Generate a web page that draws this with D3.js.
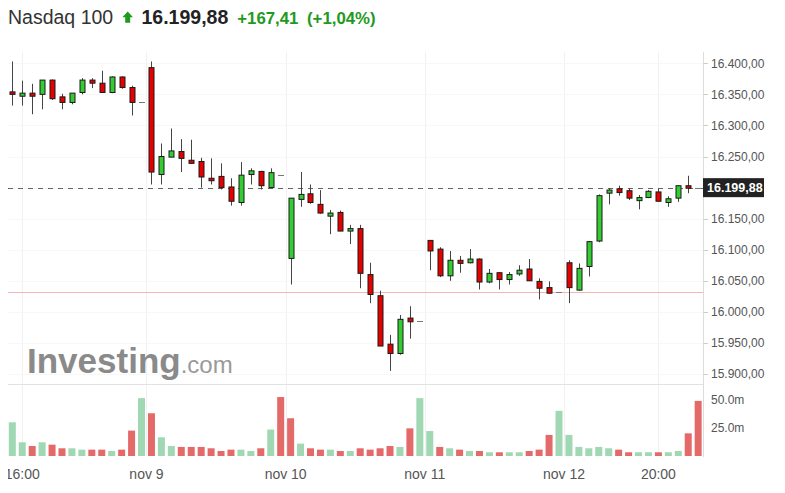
<!DOCTYPE html>
<html>
<head>
<meta charset="utf-8">
<script src="https://cdn.jsdelivr.net/npm/d3@7"></script>
<style>
  html, body { margin: 0; padding: 0; background: #fff; }
  svg { display: block; }
</style>
</head>
<body>
<svg id="chart" width="785" height="493"></svg>
<script>
// ---------- DATA ----------
const opens  = [16354,16347,16352,16350,16373,16346,16337,16353,16373,16368,16353,16378,16361,16338,16393,16221,16249,16258,16244,16242,16215,16218,16201,16176,16221,16226,16200,16221,16086,16181,16190,16173,16154,16160,16130,16134,16060,16026,15948,15933,15990,15986,16115,16101,16058,16083,16079,16085,16048,16063,16052,16061,16069,16049,16039,16032,16079,16035,16073,16114,16191,16198,16195,16179,16184,16193,16176,16183,16203,16199.88];
const highs  = [16403,16372,16367,16373,16374,16351,16352,16376,16376,16388,16379,16379,16364,16338,16403,16271,16295,16278,16277,16248,16247,16239,16215,16241,16231,16227,16231,16221,16183,16225,16205,16196,16164,16163,16140,16140,16079,16034,15963,15995,16009,15986,16115,16104,16098,16090,16101,16086,16069,16064,16064,16075,16085,16054,16049,16032,16083,16078,16114,16189,16199,16203,16199,16188,16196,16198,16186,16204,16219,16199.88];
const lows   = [16332,16332,16318,16326,16341,16326,16334,16350,16360,16353,16352,16359,16316,16338,16205,16205,16249,16225,16238,16200,16205,16197,16171,16171,16205,16197,16200,16221,16044,16169,16174,16158,16125,16130,16109,16038,16014,15945,15905,15931,15957,15986,16067,16056,16050,16063,16078,16036,16046,16036,16044,16058,16050,16020,16029,16032,16014,16034,16057,16112,16173,16187,16180,16165,16183,16177,16169,16177,16191,16199.88];
const closes = [16350,16352,16347,16373,16343,16337,16352,16373,16368,16353,16378,16361,16337,16338,16225,16250,16259,16247,16239,16217,16211,16200,16178,16220,16227,16203,16224,16221,16183,16189,16176,16159,16159,16130,16134,16062,16028,15945,15933,15988,15984,15986,16098,16058,16083,16078,16085,16048,16062,16052,16060,16067,16050,16038,16030,16032,16039,16070,16113,16187,16196,16192,16183,16184,16194,16178,16182,16203,16199,16199.88];
// volume in millions, and whether the volume bar is "up" (u) or "down" (d)
const volumes = [29.7,12.1,8.8,12.1,10,6.8,6.8,5.6,5.6,5.6,4.4,5.6,22.4,51,37.7,16.5,8.8,8,8,8,6.8,4.4,5.6,5.6,4.4,6.8,23.3,52,33.3,10.9,6.8,5.6,5.6,4.4,4.4,6.8,5.6,6.8,8.8,8,24.4,51,22,8,6.8,5.6,4.4,4.4,3.3,3.3,3.3,3.3,4.4,5.6,18.6,39.8,18.6,8,6.8,8,6.8,5.6,3.3,3.3,3.3,3.3,3.3,4.4,20,48.6];
const volDir  = ["u","u","d","u","d","d","u","u","d","d","u","d","d","u","d","u","u","d","d","d","d","d","d","u","u","d","u","d","d","u","d","d","u","d","u","d","d","d","d","u","d","u","u","d","u","d","u","d","u","d","u","u","d","d","d","u","u","u","u","u","u","d","d","u","u","d","u","u","d","d"];

const priceTicks = [15900,15950,16000,16050,16100,16150,16250,16300,16350,16400];
const volumeTicks = [25, 50];
const volumeTickLabels = ["25.0m", "50.0m"];
const timeTickPos = [1, 13.5, 27.5, 41.5, 55.5, 65];
const timeTickLabels = ["16:00", "nov 9", "nov 10", "nov 11", "nov 12", "20:00"];

const instrument = "Nasdaq 100";
const lastPrice = 16199.88;
const change = 167.41;
const changePct = 1.04;
const prevClose = 16032.47;

// ---------- SETUP ----------
const svg = d3.select("#chart");
const FONT = "'Liberation Sans', Arial, sans-serif";
const UP = "#33cc33", DOWN = "#e60000";
const VUP = "#9fd8b3", VDOWN = "#e46a6a";

const loc = d3.formatLocale({decimal: ",", thousands: ".", grouping: [3], currency: ["", ""]});
const fmt2 = loc.format(",.2f");

const plotLeft = 8, plotRight = 703;
const x = d3.scaleLinear().domain([0, 69]).range([12.3, 12.3 + 69 * 9.94]);
const y = d3.scaleLinear().domain([15900, 16400]).range([374, 63.3]);
const yv = d3.scaleLinear().domain([0, 50]).range([456, 399.3]);

svg.append("rect").attr("width", 785).attr("height", 493).attr("fill", "#fff");

// ---------- HEADER ----------
const hdr = svg.append("g").attr("font-family", FONT);
hdr.append("text").attr("x", 8).attr("y", 24).attr("font-size", 19.5).attr("fill", "#333").text(instrument);
hdr.append("path").attr("d", "M127.7,11.5 L133,17.3 L130.2,17.3 L130.2,22.7 L125.2,22.7 L125.2,17.3 L122.4,17.3 Z").attr("fill", "#1e9a1e");
hdr.append("text").attr("x", 141.5).attr("y", 24).attr("font-size", 19.5).attr("font-weight", "bold").attr("fill", "#222").text(fmt2(lastPrice));
hdr.append("text").attr("x", 237.3).attr("y", 24).attr("font-size", 16.8).attr("font-weight", "bold").attr("fill", "#1e9a1e").text("+" + fmt2(change));
hdr.append("text").attr("x", 307).attr("y", 24).attr("font-size", 16.8).attr("font-weight", "bold").attr("fill", "#1e9a1e").text("(+" + loc.format(".2f")(changePct) + "%)");

// ---------- GRID ----------
const grid = svg.append("g");
grid.selectAll("line.v").data(timeTickPos).join("line")
  .attr("x1", d => Math.round(x(d)) + 0.5).attr("x2", d => Math.round(x(d)) + 0.5)
  .attr("y1", 52).attr("y2", 456).attr("stroke", "#f1f1f1");
grid.selectAll("line.h").data(priceTicks.concat([16200])).join("line")
  .attr("x1", plotLeft).attr("x2", plotRight)
  .attr("y1", d => Math.round(y(d)) + 0.5).attr("y2", d => Math.round(y(d)) + 0.5)
  .attr("stroke", "#f7f7f7");

// panel separator
svg.append("line").attr("x1", plotLeft).attr("x2", plotRight).attr("y1", 384.5).attr("y2", 384.5).attr("stroke", "#e2e2e2");

// ---------- WATERMARK ----------
const wm = svg.append("text").attr("x", 27).attr("y", 373).attr("font-family", FONT).attr("fill", "#8a8a8a");
wm.append("tspan").attr("font-size", 35).attr("font-weight", "bold").text("Investing");
wm.append("tspan").attr("font-size", 24).attr("fill", "#9a9a9a").text(".com");

// ---------- REFERENCE LINES ----------
svg.append("line").attr("x1", plotLeft).attr("x2", plotRight)
  .attr("y1", Math.round(y(prevClose)) + 0.5).attr("y2", Math.round(y(prevClose)) + 0.5)
  .attr("stroke", "#f5b5b5");
svg.append("line").attr("x1", plotLeft).attr("x2", plotRight)
  .attr("y1", Math.round(y(lastPrice)) + 0.5).attr("y2", Math.round(y(lastPrice)) + 0.5)
  .attr("stroke", "#666").attr("stroke-dasharray", "5,5");

// ---------- VOLUME ----------
svg.append("g").selectAll("rect").data(volumes).join("rect")
  .attr("x", (d, i) => x(i) - 3.5).attr("width", 7)
  .attr("y", d => yv(d)).attr("height", d => yv(0) - yv(d))
  .attr("fill", (d, i) => volDir[i] === "u" ? VUP : VDOWN);

// ---------- CANDLES ----------
const candles = d3.range(opens.length).map(i => ({i, o: opens[i], h: highs[i], l: lows[i], c: closes[i]}));
const cg = svg.append("g");
const normal = candles.filter(d => d.h !== d.l);
const flat = candles.filter(d => d.h === d.l);
cg.selectAll("line.wick").data(normal).join("line")
  .attr("x1", d => Math.round(x(d.i)) + 0.5).attr("x2", d => Math.round(x(d.i)) + 0.5)
  .attr("y1", d => y(d.h)).attr("y2", d => y(d.l))
  .attr("stroke", "#444").attr("stroke-width", 1);
cg.selectAll("rect.body").data(normal).join("rect")
  .attr("x", d => Math.round(x(d.i)) - 2)
  .attr("width", 5)
  .attr("y", d => y(Math.max(d.o, d.c)))
  .attr("height", d => Math.max(1.5, Math.abs(y(d.o) - y(d.c))))
  .attr("fill", d => d.c >= d.o ? UP : DOWN)
  .attr("stroke", "#1a1a1a").attr("stroke-width", 1);
cg.selectAll("line.flat").data(flat).join("line")
  .attr("x1", d => Math.round(x(d.i)) - 3).attr("x2", d => Math.round(x(d.i)) + 3)
  .attr("y1", d => Math.round(y(d.c)) + 0.5).attr("y2", d => Math.round(y(d.c)) + 0.5)
  .attr("stroke", "#777");

// ---------- RIGHT AXIS ----------
svg.append("line").attr("x1", plotRight + 0.5).attr("x2", plotRight + 0.5).attr("y1", 52).attr("y2", 457).attr("stroke", "#dcdcdc");
const ax = svg.append("g").attr("font-family", FONT).attr("font-size", 12).attr("fill", "#555");
ax.selectAll("line.t").data(priceTicks).join("line")
  .attr("x1", plotRight + 1).attr("x2", plotRight + 5)
  .attr("y1", d => Math.round(y(d)) + 0.5).attr("y2", d => Math.round(y(d)) + 0.5)
  .attr("stroke", "#ccc");
ax.selectAll("text.p").data(priceTicks).join("text")
  .attr("x", 711).attr("y", d => y(d)).attr("dy", "0.35em").text(d => fmt2(d));
ax.selectAll("text.v").data(volumeTicks).join("text")
  .attr("x", 711).attr("y", d => yv(d)).attr("dy", "0.35em").text((d, i) => volumeTickLabels[i]);

// current price label
const ly = y(lastPrice);
svg.append("rect").attr("x", 703).attr("y", ly - 9.5).attr("width", 61).attr("height", 19).attr("fill", "#222");
svg.append("text").attr("x", 707).attr("y", ly).attr("dy", "0.35em")
  .attr("font-family", FONT).attr("font-size", 12.5).attr("font-weight", "bold").attr("fill", "#fff")
  .text(fmt2(lastPrice));

// ---------- X AXIS LABELS ----------
svg.append("defs").append("clipPath").attr("id", "xclip").append("rect")
  .attr("x", plotLeft).attr("y", 456).attr("width", plotRight - plotLeft).attr("height", 37);
svg.append("g").attr("clip-path", "url(#xclip)")
  .attr("font-family", FONT).attr("font-size", 14).attr("fill", "#555").attr("text-anchor", "middle")
  .selectAll("text").data(timeTickPos).join("text")
  .attr("x", d => x(d)).attr("y", 479).text((d, i) => timeTickLabels[i]);
</script>
</body>
</html>
